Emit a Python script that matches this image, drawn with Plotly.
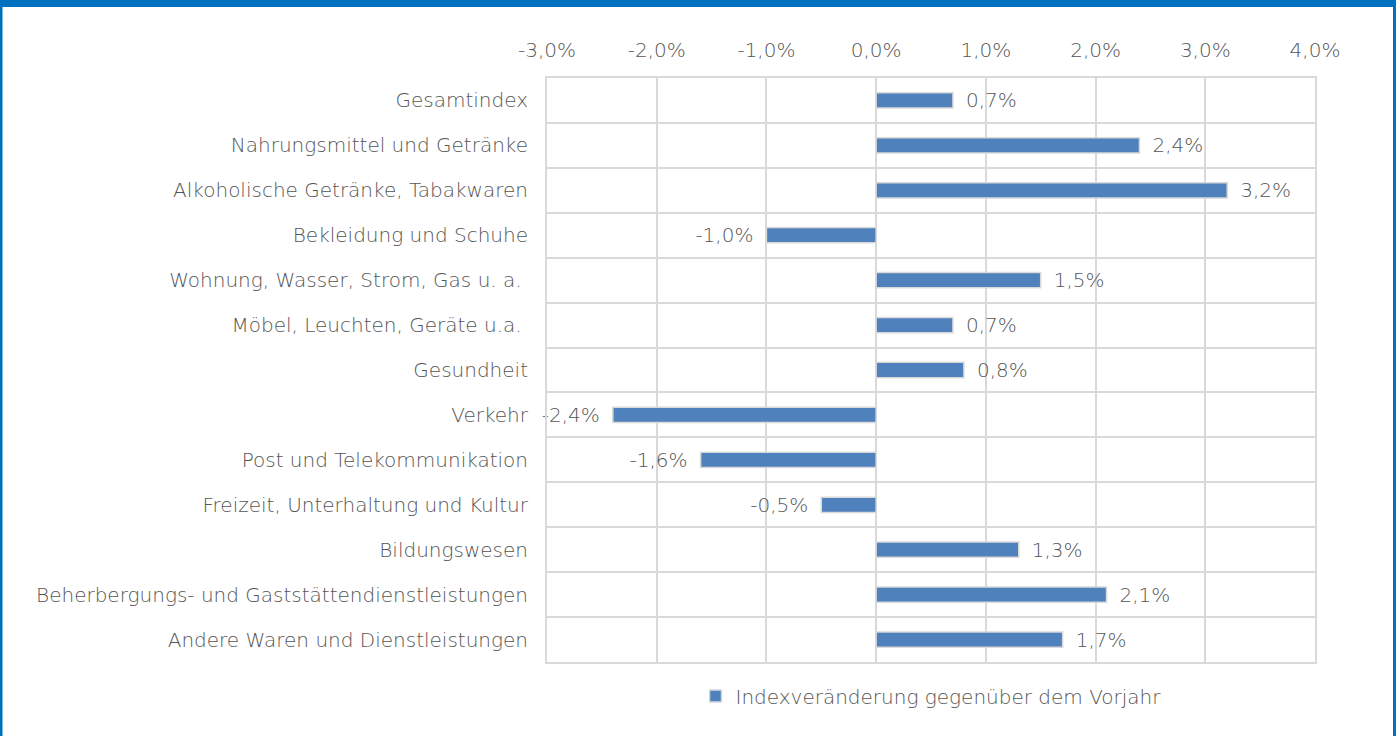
import plotly.graph_objects as go

# Veränderung der Verbraucherpreise nach Gruppen (in % gegenüber Vorjahr)
categories = [
    "Gesamtindex",
    "Nahrungsmittel und Getränke",
    "Alkoholische Getränke, Tabakwaren",
    "Bekleidung und Schuhe",
    "Wohnung, Wasser, Strom, Gas u. a. ",
    "Möbel, Leuchten, Geräte u.a. ",
    "Gesundheit",
    "Verkehr",
    "Post und Telekommunikation",
    "Freizeit, Unterhaltung und Kultur",
    "Bildungswesen",
    "Beherbergungs- und Gaststättendienstleistungen",
    "Andere Waren und Dienstleistungen",
]
changes = [0.7, 2.4, 3.2, -1.0, 1.5, 0.7, 0.8, -2.4, -1.6, -0.5, 1.3, 2.1, 1.7]
series_name = "Indexveränderung gegenüber dem Vorjahr"
tick_values = [-3, -2, -1, 0, 1, 2, 3, 4]

FONT = "DejaVu Sans"
WEIGHT = 200
SIZE = 20
GREY_TEXT = "#555555"
GRID = "#D9D9D9"
BLUE = "#0070C0"

# value labels sit a little away from the bar end
GAP = "\u2002"
labels = []
for v in changes:
    s = f"{v:.1f}%".replace(".", ",")
    labels.append(GAP + s if v >= 0 else s + GAP)
txt_font = dict(family=FONT, size=SIZE, color=GREY_TEXT, weight=WEIGHT)

fig = go.Figure()
fig.add_trace(go.Bar(
    x=changes,
    y=categories,
    orientation="h",
    name=series_name,
    marker=dict(color="#4F81BD", line=dict(color="#D9D9D9", width=1.5)),
    width=0.34,
    text=labels,
    textposition="outside",
    constraintext="none",
    textfont=txt_font,
    cliponaxis=False,
    showlegend=True,
))

# panel frame in paper coordinates (plot area spans 768 x 584 px)
L, R, T, B = 547, 85, 78, 74
W, H = 1400 - L - R, 736 - T - B

def px_x(p):
    return (p - L) / W

def px_y(p):
    return (736 - B - p) / H

fig.update_layout(
    width=1400,
    height=736,
    margin=dict(l=L, r=R, t=T, b=B),
    paper_bgcolor="white",
    plot_bgcolor="white",
    font=txt_font,
    separators=",.",
    legend=dict(
        orientation="h",
        x=0.5, xanchor="center",
        y=-0.025, yanchor="top",
        font=txt_font,
        itemwidth=30,
    ),
    xaxis=dict(
        side="top",
        range=[tick_values[0], tick_values[-1]],
        tickvals=tick_values,
        ticktext=[f"{v:.1f}%".replace(".", ",") for v in tick_values],
        showgrid=True,
        gridcolor=GRID,
        gridwidth=2,
        zeroline=False,
        showline=True,
        linecolor=GRID,
        linewidth=2,
        mirror=True,
        ticks="",
        ticklabelstandoff=11,
        tickfont=txt_font,
    ),
    yaxis=dict(
        type="category",
        categoryorder="array",
        categoryarray=categories,
        autorange="reversed",
        tickson="boundaries",
        showgrid=True,
        gridcolor=GRID,
        gridwidth=2,
        showline=True,
        linecolor=GRID,
        linewidth=2,
        mirror=True,
        ticks="",
        ticklabelstandoff=13,
        tickfont=txt_font,
    ),
    shapes=[
        dict(type="line", xref="paper", yref="paper",
             x0=px_x(0), x1=px_x(1396), y0=px_y(3.5), y1=px_y(3.5),
             line=dict(color=BLUE, width=7)),
        dict(type="line", xref="paper", yref="paper",
             x0=px_x(1), x1=px_x(1), y0=px_y(736), y1=px_y(0),
             line=dict(color=BLUE, width=3)),
        dict(type="line", xref="paper", yref="paper",
             x0=px_x(1394.5), x1=px_x(1394.5), y0=px_y(736), y1=px_y(0),
             line=dict(color=BLUE, width=3)),
    ],
)

fig.write_html("out.html")
